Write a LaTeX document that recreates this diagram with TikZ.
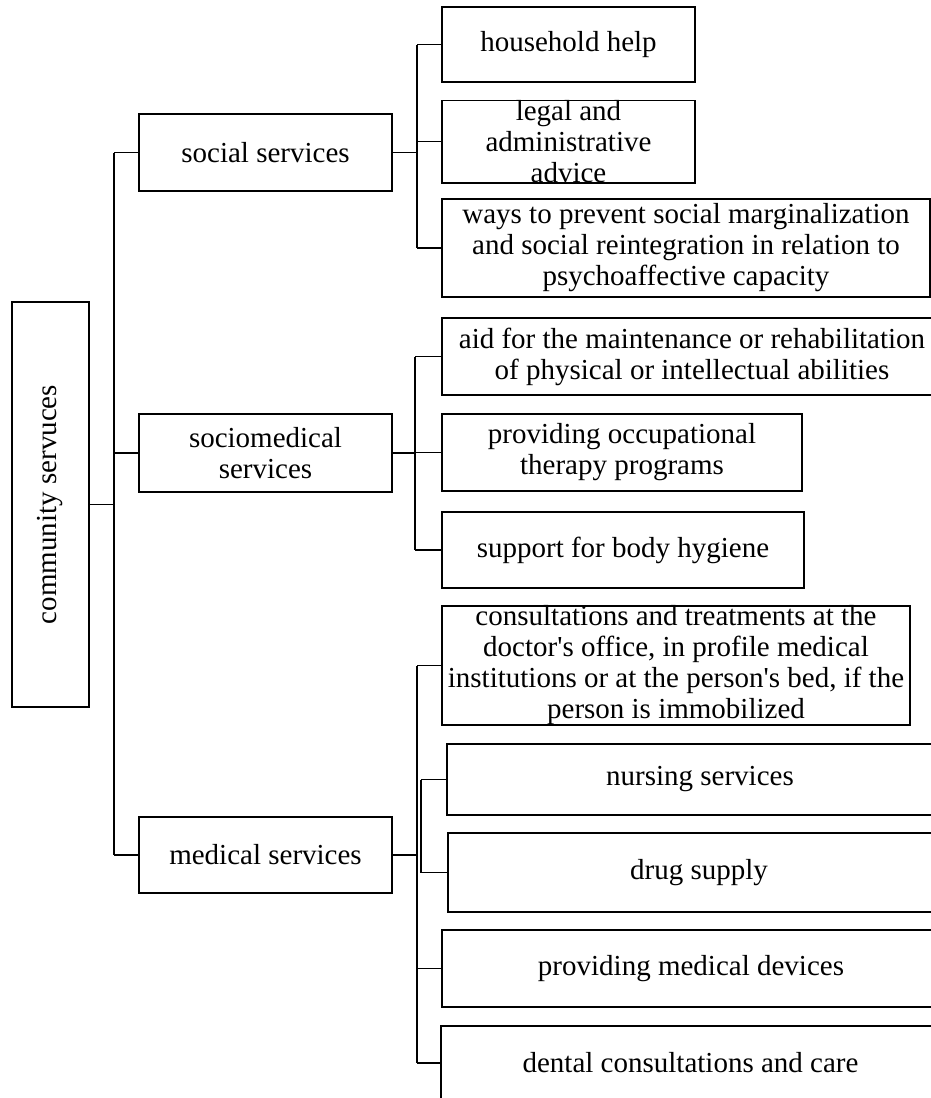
\documentclass[tikz,border=0pt]{standalone}
\usepackage{fontspec}
\setmainfont{Liberation Serif}[Ligatures=TeXOff]
\begin{document}
\begin{tikzpicture}[x=1pt,y=-1pt,
  line width=1.6pt,
  boxnode/.style={draw=black, line width=1.6pt, inner sep=0pt, align=center,
    font=\fontsize{29}{31}\selectfont, fill=white},
  conn/.style={draw=black, line width=1.6pt}]
\useasboundingbox (0,0) rectangle (931,1098);
\fill[white] (0,0) rectangle (931,1098);

% boxes
\node[boxnode, rotate=90, minimum width=405pt, minimum height=77pt] (root) at (50.5,504.5) {community servuces};
\node[boxnode, minimum width=253pt, minimum height=77pt] (social) at (265.5,152.5) {social services};
\node[boxnode, minimum width=253pt, minimum height=78pt] (sociomed) at (265.5,453) {sociomedical\\services};
\node[boxnode, minimum width=253pt, minimum height=76pt] (medical) at (265.5,855) {medical services};

\node[boxnode, minimum width=253pt, minimum height=75pt] (hh) at (568.5,44.5) {household help};
\node[boxnode, minimum width=253pt, minimum height=77pt] (legal) at (568.5,141.5) {legal and\\administrative\\advice};
\node[boxnode, minimum width=488pt, minimum height=98pt] (ways) at (686,248) {ways to prevent social marginalization\\and social reintegration in relation to\\psychoaffective capacity};

\node[boxnode, minimum width=500pt, minimum height=77pt] (aid) at (692,356.5) {aid for the maintenance or rehabilitation\\of physical or intellectual abilities};
\node[boxnode, minimum width=360pt, minimum height=77pt] (occ) at (622,452.5) {providing occupational\\therapy programs};
\node[boxnode, minimum width=362pt, minimum height=76pt] (hyg) at (623,550) {support for body hygiene};

\node[boxnode, minimum width=468pt, minimum height=117pt] (cons) at (676,665.5) {consultations and treatments at the\\doctor's office, in profile medical\\institutions or at the person's bed, if the\\person is immobilized};
\node[boxnode, minimum width=506pt, minimum height=71pt] (nurs) at (700,779.5) {nursing services};
\node[boxnode, minimum width=502pt, minimum height=79pt] (drug) at (699,872.5) {drug supply};
\node[boxnode, minimum width=498pt, minimum height=77pt] (dev) at (691,968.5) {providing medical devices};
\node[boxnode, minimum width=499pt, minimum height=74pt] (dent) at (690.5,1063) {dental consultations and care};

% trunk
\coordinate (tTop) at (114,152.5);
\coordinate (tBot) at (114,855);
\draw[conn] (tTop) -- (tBot);
\draw[conn] (root.south) -- (root.south -| tTop);
\draw[conn] (tTop) -- (social.west);
\draw[conn] (sociomed.west -| tTop) -- (sociomed.west);
\draw[conn] (tBot) -- (medical.west);

% social branch
\coordinate (sTop) at (417,44.5);
\coordinate (sBot) at (417,248);
\draw[conn] (sTop) -- (sBot);
\draw[conn] (social.east) -- (social.east -| sTop);
\draw[conn] (sTop) -- (hh.west);
\draw[conn] (legal.west -| sTop) -- (legal.west);
\draw[conn] (sBot) -- (ways.west);

% sociomedical branch
\coordinate (mTop) at (415,356.5);
\coordinate (mBot) at (415,550);
\draw[conn] (mTop) -- (mBot);
\draw[conn] (sociomed.east) -- (sociomed.east -| mTop);
\draw[conn] (mTop) -- (aid.west);
\draw[conn] (occ.west -| mTop) -- (occ.west);
\draw[conn] (mBot) -- (hyg.west);

% medical branch
\coordinate (dTop) at (417,665.5);
\coordinate (dBot) at (417,1063);
\coordinate (dN) at (421,779.5);
\coordinate (dD) at (421,872.5);
\draw[conn] (dTop) -- (dBot);
\draw[conn] (dN) -- (dD);
\draw[conn] (medical.east) -- (medical.east -| dTop);
\draw[conn] (dTop) -- (cons.west);
\draw[conn] (dN) -- (nurs.west);
\draw[conn] (dD) -- (drug.west);
\draw[conn] (dev.west -| dTop) -- (dev.west);
\draw[conn] (dBot) -- (dent.west);
\end{tikzpicture}
\end{document}
